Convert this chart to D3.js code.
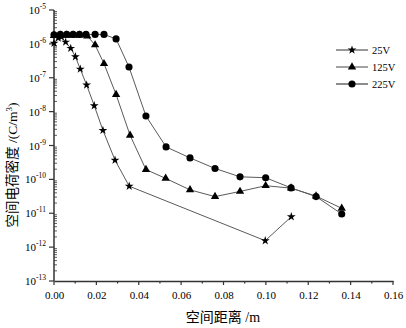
<!DOCTYPE html>
<html>
<head>
<meta charset="utf-8">
<script src="https://d3js.org/d3.v7.min.js"></script>
<style>
    body { margin: 0; background: #fff; }
    svg { display: block; }
</style>
</head>
<body>
<div id="chart"></div>
<script>
// Series data
const x25 = [0, 0.002, 0.0035, 0.0055, 0.0079, 0.0101, 0.0124, 0.0154, 0.019, 0.0231, 0.0288, 0.0355, 0.0997, 0.112];
const y25 = [1.05e-6, 1.5e-6, 1.6e-6, 1.13e-6, 7.4e-7, 4.2e-7, 1.8e-7, 6.1e-8, 1.5e-8, 2.8e-9, 3.7e-10, 6.3e-11, 1.55e-12, 7.9e-12];

const x125 = [0, 0.003, 0.006, 0.009, 0.012, 0.0157, 0.0194, 0.0236, 0.0293, 0.0359, 0.0434, 0.0527, 0.0642, 0.076, 0.0878, 0.0999, 0.1119, 0.1237, 0.1358];
const y125 = [1.75e-6, 1.8e-6, 1.8e-6, 1.8e-6, 1.8e-6, 1.7e-6, 9.3e-7, 2.6e-7, 3.2e-8, 2.0e-9, 1.95e-10, 1.07e-10, 4.9e-11, 3.1e-11, 4.4e-11, 6.5e-11, 5.5e-11, 3.2e-11, 1.4e-11];

const x225 = [0, 0.003, 0.006, 0.009, 0.012, 0.0151, 0.0194, 0.0236, 0.0293, 0.0354, 0.0434, 0.0529, 0.0642, 0.076, 0.0878, 0.0999, 0.1119, 0.1237, 0.1358];
const y225 = [1.85e-6, 1.9e-6, 1.9e-6, 1.9e-6, 1.9e-6, 1.9e-6, 1.9e-6, 1.9e-6, 1.4e-6, 2.07e-7, 7.4e-9, 9.1e-10, 4.3e-10, 2.1e-10, 1.19e-10, 1.12e-10, 5.6e-11, 3.1e-11, 9.5e-12];

const xTicks = [0, 0.02, 0.04, 0.06, 0.08, 0.10, 0.12, 0.14, 0.16];
const yExponents = [-5, -6, -7, -8, -9, -10, -11, -12, -13];
const seriesLabels = ["25V", "125V", "225V"];

const width = 406, height = 328;
const serif = "'Liberation Serif', 'Times New Roman', serif";
const cjk = "'Liberation Serif', 'Noto Sans CJK SC', serif";

const svg = d3.select("#chart")
    .append("svg")
    .attr("width", width)
    .attr("height", height);

// Scales
const xScale = d3.scaleLinear().domain([0, 0.16]).range([54, 393]);
const yScale = d3.scaleLog().domain([1e-13, 1e-5]).range([281, 10]);

const axisColor = "#333";

// X axis (major + minor ticks pointing down)
const xMinor = d3.range(0, 0.1601, 0.01);
svg.append("g")
    .selectAll("line")
    .data(xMinor)
    .enter()
    .append("line")
    .attr("x1", d => xScale(d))
    .attr("x2", d => xScale(d))
    .attr("y1", 281)
    .attr("y2", (d, i) => i % 2 === 0 ? 285 : 283.5)
    .attr("stroke", axisColor)
    .attr("stroke-width", 1.2);

svg.append("g")
    .attr("transform", "translate(0,281)")
    .call(d3.axisBottom(xScale).tickValues(xTicks).tickFormat(d3.format(".2f")).tickSize(0).tickPadding(10).tickSizeOuter(0))
    .call(g => g.select(".domain").attr("stroke", axisColor).attr("stroke-width", 1.5))
    .selectAll("text")
    .attr("fill", "#000")
    .style("font-family", serif)
    .style("font-size", "11px");

// Y axis line
svg.append("line")
    .attr("x1", 54).attr("x2", 54)
    .attr("y1", yScale(1e-5)).attr("y2", yScale(1e-13))
    .attr("stroke", axisColor)
    .attr("stroke-width", 1.5);

// Minor log ticks inward
const yMinor = [];
yExponents.slice(1).forEach(e => {
    for (let m = 2; m <= 9; m++) yMinor.push(m * Math.pow(10, e));
});
svg.append("g")
    .selectAll("line")
    .data(yMinor)
    .enter()
    .append("line")
    .attr("x1", 54)
    .attr("x2", 57)
    .attr("y1", d => yScale(d))
    .attr("y2", d => yScale(d))
    .attr("stroke", axisColor)
    .attr("stroke-width", 0.8);

// Major ticks outward with 10^n labels
const yMajor = svg.append("g")
    .selectAll("g")
    .data(yExponents)
    .enter()
    .append("g")
    .attr("transform", d => `translate(0,${yScale(Math.pow(10, d))})`);

yMajor.append("line")
    .attr("x1", 49)
    .attr("x2", 54)
    .attr("stroke", axisColor)
    .attr("stroke-width", 1.2);

const yLabel = yMajor.append("text")
    .attr("x", 46)
    .attr("y", 4)
    .attr("text-anchor", "end")
    .attr("fill", "#000")
    .style("font-family", serif)
    .style("font-size", "11px");
yLabel.append("tspan").text("10");
yLabel.append("tspan")
    .attr("dy", "-5")
    .style("font-size", "7.5px")
    .text(d => d);

// Axis titles
svg.append("text")
    .attr("x", 223)
    .attr("y", 322)
    .attr("text-anchor", "middle")
    .attr("fill", "#000")
    .style("font-family", cjk)
    .style("font-size", "14px")
    .text("空间距离 /m");

const yTitle = svg.append("text")
    .attr("transform", "translate(17,165) rotate(-90)")
    .attr("text-anchor", "middle")
    .attr("fill", "#000")
    .style("font-family", cjk)
    .style("font-size", "13.5px");
yTitle.append("tspan").text("空间电荷密度 /(C/m");
yTitle.append("tspan").attr("dy", "-5").style("font-size", "9px").text("3");
yTitle.append("tspan").attr("dy", "5").text(")");

// Series definitions
const series = [
    { label: seriesLabels[0], xs: x25, ys: y25, symbol: d3.symbolStar, size: 24, legendStroke: "#333", legendWidth: 1 },
    { label: seriesLabels[1], xs: x125, ys: y125, symbol: d3.symbolTriangle, size: 30, legendStroke: "#999", legendWidth: 1.8 },
    { label: seriesLabels[2], xs: x225, ys: y225, symbol: d3.symbolCircle, size: 40, legendStroke: "#666", legendWidth: 1.5 }
];

const line = d3.line()
    .x(d => xScale(d[0]))
    .y(d => yScale(d[1]));

series.forEach(s => {
    const pts = s.xs.map((x, i) => [x, s.ys[i]]);
    svg.append("path")
        .datum(pts)
        .attr("fill", "none")
        .attr("stroke", "#5a5a5a")
        .attr("stroke-width", 1)
        .attr("d", line);

    svg.append("g")
        .selectAll("path")
        .data(pts)
        .enter()
        .append("path")
        .attr("transform", d => `translate(${xScale(d[0])},${yScale(d[1])})`)
        .attr("d", d3.symbol().type(s.symbol).size(s.size))
        .attr("fill", "#000");
});

// Legend
const legend = svg.append("g")
    .selectAll("g")
    .data(series)
    .enter()
    .append("g")
    .attr("transform", (d, i) => `translate(0,${50 + i * 17})`);

legend.append("line")
    .attr("x1", 336)
    .attr("x2", 368)
    .attr("stroke", d => d.legendStroke)
    .attr("stroke-width", d => d.legendWidth);

legend.append("path")
    .attr("transform", "translate(352,0)")
    .attr("d", d => d3.symbol().type(d.symbol).size(d.size)())
    .attr("fill", "#000");

legend.append("text")
    .attr("x", 372)
    .attr("y", 4)
    .attr("fill", "#000")
    .style("font-family", serif)
    .style("font-size", "10.5px")
    .text(d => d.label);
</script>
</body>
</html>
